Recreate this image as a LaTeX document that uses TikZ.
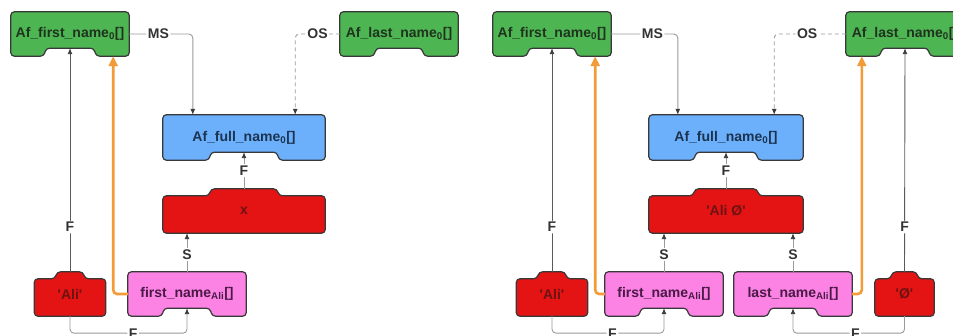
\documentclass[tikz,border=0pt]{standalone}
\usepackage{fontspec}
\setmainfont{Liberation Sans}
\usetikzlibrary{arrows.meta,calc,backgrounds}

\definecolor{tilegreen}{HTML}{4DB653}
\definecolor{tileblue}{HTML}{6CB0FC}
\definecolor{tilered}{HTML}{E41414}
\definecolor{tilepink}{HTML}{FC82E4}
\definecolor{greentext}{HTML}{1F331E}
\definecolor{bluetext}{HTML}{1C3350}
\definecolor{redtext}{HTML}{6E1212}
\definecolor{pinktext}{HTML}{4A1A46}
\definecolor{edge}{HTML}{383838}
\definecolor{linegray}{HTML}{9A9A9A}
\definecolor{darkgray}{HTML}{5A5A5A}
\definecolor{headgray}{HTML}{3A3A3A}
\definecolor{flow}{HTML}{F29B38}
\definecolor{labelcol}{HTML}{333333}

\tikzset{
  tile/.style={minimum height=44pt, inner sep=0pt, font=\fontsize{14}{16}\selectfont\bfseries},
  tileedge/.style={draw=edge, line width=1.2pt, rounded corners=3.5pt},
  link/.style={draw=linegray, line width=0.9pt, rounded corners=4pt, -{Latex[length=6pt, width=5pt, color=headgray]}},
  darklink/.style={link, draw=darkgray},
  optlink/.style={link, dash pattern=on 4pt off 3pt},
  flowlink/.style={draw=flow, line width=2.6pt, rounded corners=4pt, -{Triangle[length=10pt, width=9pt]}},
  lbl/.style={fill=white, inner sep=1.5pt, text=labelcol, font=\fontsize{14}{16}\selectfont\bfseries},
}

% tile with a notch in its bottom edge: node, colour, half width of the notch
\newcommand{\notchtile}[3]{%
  \filldraw[tileedge, fill=#2] (#1.north west) -- (#1.north east) -- (#1.south east)
    -- ($(#1.south)+(#3,0pt)$) -- ($(#1.south)+(#3-2pt,8pt)$) -- ($(#1.south)+(-#3+2pt,8pt)$)
    -- ($(#1.south)+(-#3,0pt)$) -- (#1.south west) -- cycle;}
% tile with a tab on its top edge: node, colour, half width of the tab
\newcommand{\bumptile}[3]{%
  \filldraw[tileedge, fill=#2] ($(#1.north west)+(0pt,-7pt)$) -- ($(#1.north)+(-#3,-7pt)$)
    -- ($(#1.north)+(-#3+2pt,0pt)$) -- ($(#1.north)+(#3-2pt,0pt)$) -- ($(#1.north)+(#3,-7pt)$)
    -- ($(#1.north east)+(0pt,-7pt)$) -- (#1.south east) -- (#1.south west) -- cycle;}

\newcommand{\q}{\textquotesingle}

\begin{document}
\begin{tikzpicture}[x=1pt, y=-1pt]
\useasboundingbox (0,0) rectangle (953,336);
\clip (0,0) rectangle (953,336);

% left: first name only
\node (afirst) [tile, text=greentext, minimum width=118pt] at (70,34) {Af\_first\_name\textsubscript{0}[]};
\node (alast) [tile, text=greentext, minimum width=118pt] at (399,34) {Af\_last\_name\textsubscript{0}[]};
\node (afull) [tile, text=bluetext, minimum width=162pt, minimum height=45pt] at (244,137.5) {Af\_full\_name\textsubscript{0}[]};
\node (xval) [tile, text=redtext, minimum width=162pt] at (244,211) {x};
\node (ali) [tile, text=redtext, minimum width=71pt] at (70,294) {\q Ali\q};
\node (fname) [tile, text=pinktext, minimum width=118pt] at (187,294) {first\_name\textsubscript{Ali}[]};

% right: first and last name
\node (afirst2) [tile, text=greentext, minimum width=118pt] at (552,34) {Af\_first\_name\textsubscript{0}[]};
\node (alast2) [tile, text=greentext, minimum width=118pt] at (905,34) {Af\_last\_name\textsubscript{0}[]};
\node (afull2) [tile, text=bluetext, minimum width=154pt, minimum height=45pt] at (726,137.5) {Af\_full\_name\textsubscript{0}[]};
\node (aliphi) [tile, text=redtext, minimum width=154pt] at (726,211) {\q Ali Ø\q};
\node (ali2) [tile, text=redtext, minimum width=71pt] at (552,294) {\q Ali\q};
\node (fname2) [tile, text=pinktext, minimum width=118pt] at (664,294) {first\_name\textsubscript{Ali}[]};
\node (lname2) [tile, text=pinktext, minimum width=118pt] at (793,294) {last\_name\textsubscript{Ali}[]};
\node (phi2) [tile, text=redtext, minimum width=59pt] at (904.5,294) {\q Ø\q};

% Tiles
\begin{scope}[on background layer]
  \clip (0,0) rectangle (953,336);
  \notchtile{afirst}{tilegreen}{26pt}
  \notchtile{alast}{tilegreen}{25pt}
  \notchtile{afull}{tileblue}{35pt}
  \bumptile{xval}{tilered}{35pt}
  \bumptile{ali}{tilered}{15pt}
  \notchtile{fname}{tilepink}{25pt}
  \notchtile{afirst2}{tilegreen}{25pt}
  \notchtile{alast2}{tilegreen}{25pt}
  \notchtile{afull2}{tileblue}{32pt}
  \bumptile{aliphi}{tilered}{33pt}
  \bumptile{ali2}{tilered}{15pt}
  \notchtile{fname2}{tilepink}{25pt}
  \notchtile{lname2}{tilepink}{25pt}
  \bumptile{phi2}{tilered}{14pt}
\end{scope}

% Arrows
\draw[link] (afirst.east) -| ([xshift=30pt]afull.north west) node[lbl, pos=0.23] {MS};
\draw[optlink] (alast.west) -| ([xshift=-30pt]afull.north east) node[lbl, pos=0.25] {OS};
\draw[link] (xval.north) -- ([yshift=8pt]afull.south) node[lbl, midway] {F};
\draw[link] (fname.north) -- (fname.north |- xval.south) node[lbl, pos=0.45] {S};
\draw[darklink] (ali.north) -- ([yshift=8pt]afirst.south) node[lbl, pos=0.2] {F};
\draw[link] (ali.south) -- ++(0,17) -| ([yshift=8pt]fname.south) node[lbl, pos=0.27] {F};
\draw[flowlink] (fname.west) -| ([xshift=-16pt]afirst.south east);

\draw[link] (afirst2.east) -| ([xshift=29pt]afull2.north west) node[lbl, pos=0.31] {MS};
\draw[optlink] (alast2.west) -| ([xshift=-29pt]afull2.north east) node[lbl, pos=0.27] {OS};
\draw[link] (aliphi.north) -- ([yshift=8pt]afull2.south) node[lbl, midway] {F};
\draw[link] (fname2.north) -- (fname2.north |- aliphi.south) node[lbl, pos=0.45] {S};
\draw[link] (lname2.north) -- (lname2.north |- aliphi.south) node[lbl, pos=0.45] {S};
\draw[darklink] (ali2.north) -- ([yshift=8pt]afirst2.south) node[lbl, pos=0.2] {F};
\draw[darklink] (phi2.north) -- ([yshift=8pt]alast2.south) node[lbl, pos=0.2] {F};
\draw[link] (ali2.south) -- ++(0,17) -| ([yshift=8pt]fname2.south) node[lbl, pos=0.27] {F};
\draw[link] (phi2.south) -- ++(0,17) -| ([yshift=8pt]lname2.south) node[lbl, pos=0.22] {F};
\draw[flowlink] (fname2.west) -| ([xshift=-16pt]afirst2.south east);
\draw[flowlink] (lname2.east) -| ([xshift=16pt]alast2.south west);
\end{tikzpicture}
\end{document}
